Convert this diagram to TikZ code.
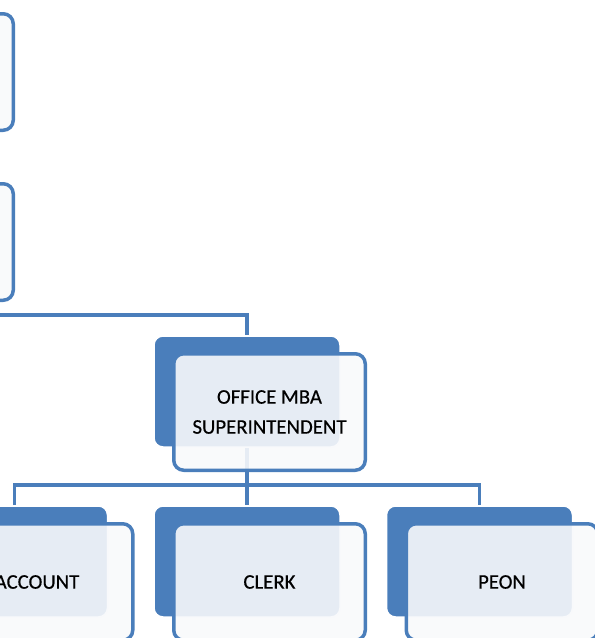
\documentclass[tikz,border=0pt]{standalone}
\usepackage{fontspec}
\setmainfont{Carlito}
\newfontfamily\boxfont{Carlito}[FakeBold=0.4]
\definecolor{accblue}{HTML}{4A7EBB}
\definecolor{paper}{HTML}{F8F9FB}
\begin{document}
\begin{tikzpicture}[x=1pt,y=-1pt,
  backbox/.style={rectangle, rounded corners=9pt, fill=accblue, draw=white, line width=1.5pt,
    minimum width=186pt, minimum height=111pt, inner sep=0pt},
  frontbox/.style={rectangle, rounded corners=10pt, draw=accblue, line width=3.5pt,
    fill=paper, fill opacity=0.9, text opacity=1, text=black,
    minimum width=191.5pt, minimum height=116.5pt, align=center,
    font=\boxfont\fontsize{20.8}{30}\selectfont, inner sep=0pt},
  conn/.style={draw=accblue, line width=3.5pt}]
\useasboundingbox (0,0) rectangle (595,638);
\clip (0,0) rectangle (595,638);
% back shapes
\path
  (-105,51.5) node[backbox] (b1back) {}
  (-105,221.5) node[backbox] (b2back) {}
  (247,391.5) node[backbox] (midback) {}
  (14.5,561.5) node[backbox] (accback) {}
  (247,561.5) node[backbox] (clkback) {}
  (479.5,561.5) node[backbox] (peonback) {};
% connectors
\coordinate (j1) at (0,315);
\coordinate (j2) at (247,485);
\draw[conn] (b2back.south) |- (j1) -| (midback.north);
\draw[conn] (midback.south) -- (j2);
\draw[conn] (accback.north) |- (j2) -| (peonback.north);
\draw[conn] (j2) -- (clkback.north);
% redraw back shapes above connectors
\path
  (-105,51.5) node[backbox] {}
  (-105,221.5) node[backbox] {}
  (247,391.5) node[backbox] {}
  (14.5,561.5) node[backbox] {}
  (247,561.5) node[backbox] {}
  (479.5,561.5) node[backbox] {};
% front shapes
\node[frontbox] (b1) at (-82.5,72) {};
\node[frontbox] (b2) at (-82.5,242) {};
\node[frontbox] (mid) at (269.5,412) {OFFICE MBA\\SUPERINTENDENT};
\node[frontbox] (acc) at (37,582) {ACCOUNT};
\node[frontbox] (clk) at (269.5,582) {CLERK};
\node[frontbox] (peon) at (502,582) {PEON};
\end{tikzpicture}
\end{document}
